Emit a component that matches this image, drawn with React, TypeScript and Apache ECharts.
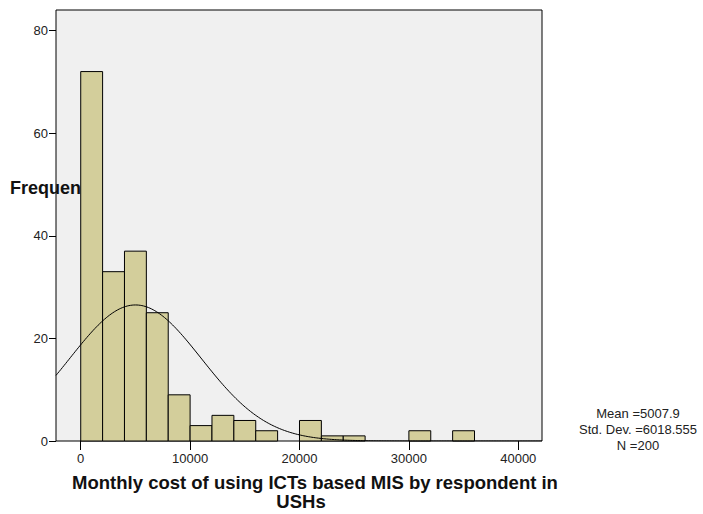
import React, { useEffect, useRef } from "react";
import * as echarts from "echarts";

// Histogram bins (width 2000) and their frequencies
const BIN_STARTS = [0, 2000, 4000, 6000, 8000, 10000, 12000, 14000, 16000, 18000, 20000, 22000, 24000, 26000, 28000, 30000, 32000, 34000];
const FREQUENCIES = [72, 33, 37, 25, 9, 3, 5, 4, 2, 0, 4, 1, 1, 0, 0, 2, 0, 2];
const BIN_WIDTH = 2000;

// Summary statistics shown on the chart (define the normal curve)
const MEAN = 5007.9;
const STD_DEV = 6018.555;
const N = 200;

const X_TICKS = [0, 10000, 20000, 30000, 40000];
const Y_TICKS = [0, 20, 40, 60, 80];
const X_MIN = -2260;
const X_MAX = 42170;
const Y_MAX = 84;

const FONT = "'Liberation Sans', Arial, sans-serif";

export default function App() {
  const ref = useRef<HTMLDivElement>(null);

  useEffect(() => {
    if (!ref.current) return;
    const chart = echarts.init(ref.current, undefined, { renderer: "svg" });

    const barData = BIN_STARTS.map((s, i) => [s, s + BIN_WIDTH, FREQUENCIES[i]]).filter((d) => d[2] > 0);

    // Fitted normal curve from the stated mean / std. dev. / N
    const curve: number[][] = [];
    const steps = 300;
    for (let i = 0; i <= steps; i++) {
      const x = X_MIN + ((X_MAX - X_MIN) * i) / steps;
      const z = (x - MEAN) / STD_DEV;
      const y = (N * BIN_WIDTH) / (STD_DEV * Math.sqrt(2 * Math.PI)) * Math.exp(-0.5 * z * z);
      curve.push([x, y]);
    }

    chart.setOption({
      animation: false,
      grid: {
        left: 56,
        top: 10,
        right: 161,
        bottom: 73,
        show: true,
        backgroundColor: "#f0f0f0",
        borderColor: "#000",
        borderWidth: 1,
        z: 0,
      },
      xAxis: {
        type: "value",
        min: X_MIN,
        max: X_MAX,
        splitLine: { show: false },
        axisLine: { show: false, onZero: false },
        axisTick: { show: true, length: 9, lineStyle: { color: "#000" }, customValues: X_TICKS },
        axisLabel: {
          customValues: X_TICKS,
          formatter: (v: number) => String(v),
          margin: 11,
          fontSize: 13,
          color: "#222",
          fontFamily: FONT,
        },
      },
      yAxis: {
        type: "value",
        min: 0,
        max: Y_MAX,
        splitLine: { show: false },
        axisLine: { show: false, onZero: false },
        axisTick: { show: true, length: 7, lineStyle: { color: "#000" }, customValues: Y_TICKS },
        axisLabel: {
          customValues: Y_TICKS,
          formatter: (v: number) => String(v),
          margin: 8,
          fontSize: 13,
          color: "#222",
          fontFamily: FONT,
        },
      },
      graphic: [
        {
          type: "text",
          left: 10,
          top: 179,
          z: 1,
          style: { text: "Frequen", font: `bold 18px ${FONT}`, fill: "#111" },
        },
        {
          type: "text",
          x: 315,
          y: 482,
          z: 1,
          style: {
            text: "Monthly cost of using ICTs based MIS by respondent in",
            font: `bold 18.5px ${FONT}`,
            fill: "#111",
            align: "center",
            verticalAlign: "middle",
          },
        },
        {
          type: "text",
          x: 301,
          y: 501,
          z: 1,
          style: { text: "USHs", font: `bold 18.5px ${FONT}`, fill: "#111", align: "center", verticalAlign: "middle" },
        },
        {
          type: "text",
          x: 638,
          y: 413,
          z: 1,
          style: { text: "Mean =5007.9", font: `13px ${FONT}`, fill: "#222", align: "center", verticalAlign: "middle" },
        },
        {
          type: "text",
          x: 638,
          y: 429,
          z: 1,
          style: { text: "Std. Dev. =6018.555", font: `13px ${FONT}`, fill: "#222", align: "center", verticalAlign: "middle" },
        },
        {
          type: "text",
          x: 638,
          y: 445,
          z: 1,
          style: { text: "N =200", font: `13px ${FONT}`, fill: "#222", align: "center", verticalAlign: "middle" },
        },
      ],
      series: [
        {
          type: "custom",
          z: 3,
          data: barData,
          renderItem: (params: any, api: any) => {
            const p0 = api.coord([api.value(0), 0]);
            const p1 = api.coord([api.value(1), api.value(2)]);
            return {
              type: "rect",
              shape: { x: p0[0], y: p1[1], width: p1[0] - p0[0], height: p0[1] - p1[1] },
              style: { fill: "#d3ce9b", stroke: "#000", lineWidth: 1 },
            };
          },
        },
        {
          type: "line",
          z: 4,
          data: curve,
          showSymbol: false,
          symbol: "none",
          lineStyle: { color: "#000", width: 1 },
          silent: true,
        },
      ],
    });

    return () => chart.dispose();
  }, []);

  return <div ref={ref} style={{ position: "absolute", left: 0, top: 0, width: 703, height: 514 }} />;
}
